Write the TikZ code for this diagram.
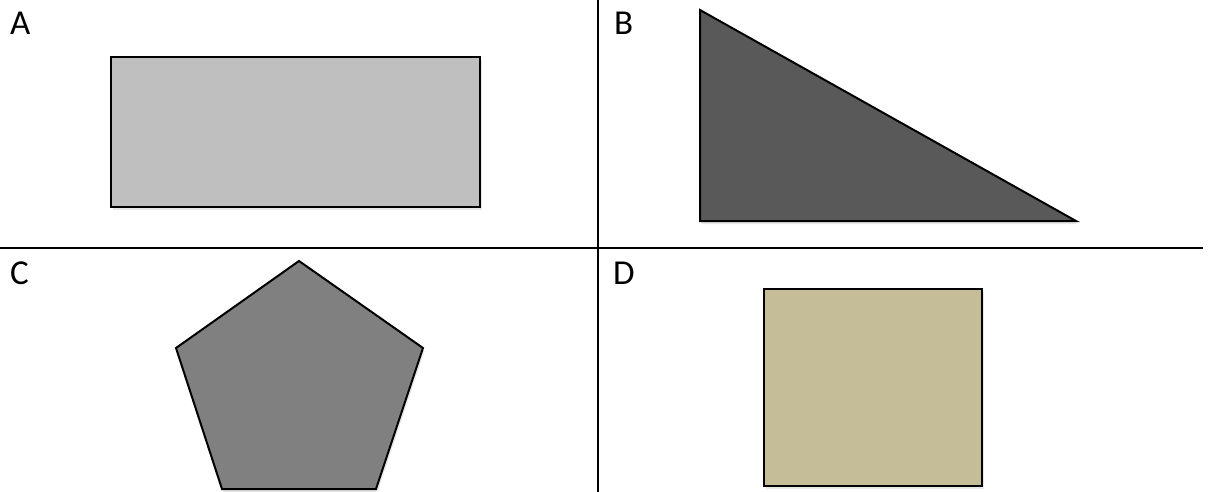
\documentclass[tikz,border=0pt]{standalone}
\usepackage{fontspec}
\setmainfont{Carlito}
\usetikzlibrary{positioning, shadows}

\begin{document}
\begin{tikzpicture}[
    x=1pt, y=-1pt,
    divider/.style={draw=black, line width=2pt},
    figure/.style={draw=black, line width=2pt, line join=miter, drop shadow={opacity=0.18, shadow xshift=1.5pt, shadow yshift=-3pt}},
    quadlabel/.style={anchor=base west, inner sep=0pt, font=\fontsize{35}{42}\selectfont}
]

% Rahmen
\useasboundingbox (0,0) rectangle (1208,492);

% Trennlinien
\coordinate (top) at (598,0);
\coordinate (bottom) at (598,492);
\coordinate (left) at (0,248);
\coordinate (right) at (1203,248);
\draw[divider] (top) -- (bottom);
\draw[divider] (left) -- (right);

% Beschriftungen
\node[quadlabel] (labA) at (10,35) {A};
\node[quadlabel] (labB) at (614,35) {B};
\node[quadlabel] (labC) at (10,284) {C};
\node[quadlabel] (labD) at (613,284) {D};

% Formen
\path[figure, fill=black!25] (111,57) rectangle (480,207);
\path[figure, fill=black!65] (700,10) -- (1076,221) -- (700,221) -- cycle;
\path[figure, fill=black!50] (299,261) -- (423,348) -- (376,489) -- (222,489) -- (176,348) -- cycle;
\path[figure, fill={rgb,255:red,196;green,189;blue,151}] (764,289) rectangle (982,486);

\end{tikzpicture}
\end{document}
